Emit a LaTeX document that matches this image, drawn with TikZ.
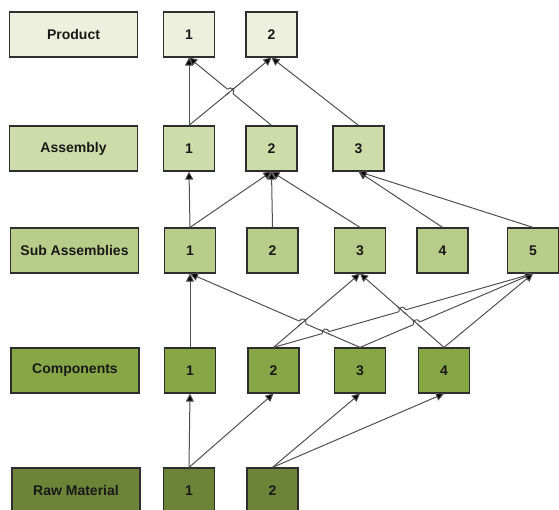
\documentclass[tikz,border=0pt]{standalone}
\usepackage{fontspec}
\setmainfont{Liberation Sans}
\usetikzlibrary{arrows.meta,calc,intersections}

\definecolor{prodfill}{HTML}{EDF0DD}
\definecolor{asmfill}{HTML}{CDDCA9}
\definecolor{subfill}{HTML}{B7CD89}
\definecolor{compfill}{HTML}{87A646}
\definecolor{rawfill}{HTML}{6B8437}
\definecolor{edgegray}{HTML}{505050}
\definecolor{boxline}{HTML}{2E2E2E}

\tikzset{
  box/.style={draw=boxline, line width=1.2pt, minimum width=51pt, minimum height=45pt,
    inner sep=0pt, font=\fontsize{14}{16}\selectfont\bfseries, text=black!90},
  levelbox/.style={box, minimum width=128pt},
  link/.style={draw=edgegray, line width=1pt,
    -{Triangle[length=8pt,width=8pt,fill=black]}},
  plainlink/.style={draw=edgegray, line width=1pt},
}

% Line hop: the link #1 -> #2 bridges over the link #3 -> #4;
% #5 = +1 or -1 picks the side of the bump.
\newcommand\hopover[5]{%
  \path[name path=hpA] (#1.north) -- (#2.south);
  \path[name path=hpB] (#3.north) -- (#4.south);
  \path[name intersections={of=hpA and hpB, by=hx}];
  \coordinate (hp1) at ($(hx)!3.5pt!(#1.north)$);
  \coordinate (hp2) at ($(hx)!3.5pt!(#2.south)$);
  \coordinate (hc1) at ($(hp1)!4.7pt!{#5*90}:(hx)$);
  \coordinate (hc2) at ($(hp2)!4.7pt!{-#5*90}:(hx)$);
  \draw[white, line width=2.6pt] (hp1) -- (hp2);
  \draw[plainlink] ($(hx)!6pt!(#3.north)$) -- ($(hx)!6pt!(#4.south)$);
  \draw[plainlink] (hp1) .. controls (hc1) and (hc2) .. (hp2);
}

\begin{document}
\begin{tikzpicture}[x=1pt,y=1pt]
  \useasboundingbox (0,-510) rectangle (559,0);
  \clip (0,-510) rectangle (559,0);

  % level captions
  \node[levelbox, fill=prodfill] (lprod) at (73.5,-34.5) {Product};
  \node[levelbox, fill=asmfill]  (lasm)  at (73.5,-148.5) {Assembly};
  \node[levelbox, fill=subfill]  (lsub)  at (74.5,-250.5) {Sub Assemblies};
  \node[levelbox, fill=compfill] (lcomp) at (75,-370.5) {Components};
  \node[levelbox, fill=rawfill]  (lraw)  at (76,-490.5) {Raw Material};

  % products
  \node[box, fill=prodfill] (p1) at (189,-34.5) {1};
  \node[box, fill=prodfill] (p2) at (271.5,-34.5) {2};
  % assemblies
  \node[box, fill=asmfill] (a1) at (189,-148.5) {1};
  \node[box, fill=asmfill] (a2) at (271.5,-148.5) {2};
  \node[box, fill=asmfill] (a3) at (358.5,-148.5) {3};
  % sub assemblies
  \node[box, fill=subfill] (s1) at (190,-250.5) {1};
  \node[box, fill=subfill] (s2) at (272.5,-250.5) {2};
  \node[box, fill=subfill] (s3) at (360,-250.5) {3};
  \node[box, fill=subfill] (s4) at (442.5,-250.5) {4};
  \node[box, fill=subfill] (s5) at (533,-250.5) {5};
  % components
  \node[box, fill=compfill] (c1) at (190,-370.5) {1};
  \node[box, fill=compfill] (c2) at (273.5,-370.5) {2};
  \node[box, fill=compfill] (c3) at (360,-370.5) {3};
  \node[box, fill=compfill] (c4) at (444,-370.5) {4};
  % raw material
  \node[box, fill=rawfill] (r1) at (189,-490.5) {1};
  \node[box, fill=rawfill] (r2) at (272.5,-490.5) {2};

  % assembly -> product
  \draw[link] (a1.north) -- (p1.south);
  \draw[link] (a1.north) -- (p2.south);
  \draw[link] (a2.north) -- (p1.south);
  \draw[link] (a3.north) -- (p2.south);
  % sub assembly -> assembly
  \draw[link] (s1.north) -- (a1.south);
  \draw[link] (s1.north) -- (a2.south);
  \draw[link] (s2.north) -- (a2.south);
  \draw[link] (s3.north) -- (a2.south);
  \draw[link] (s4.north) -- (a3.south);
  \draw[link] (s5.north) -- (a3.south);
  % component -> sub assembly
  \draw[link] (c1.north) -- (s1.south);
  \draw[link] (c2.north) -- (s3.south);
  \draw[link] (c2.north) -- (s5.south);
  \draw[link] (c3.north) -- (s1.south);
  \draw[link] (c3.north) -- (s5.south);
  \draw[link] (c4.north) -- (s3.south);
  \draw[link] (c4.north) -- (s5.south);
  % raw material -> component
  \draw[link] (r1.north) -- (c1.south);
  \draw[link] (r1.north) -- (c2.south);
  \draw[link] (r2.north) -- (c3.south);
  \draw[link] (r2.north) -- (c4.south);

  % line hops at the crossings
  \hopover{a2}{p1}{a1}{p2}{-1}
  \hopover{c3}{s1}{c2}{s3}{-1}
  \hopover{c2}{s5}{c3}{s1}{1}
  \hopover{c2}{s5}{c4}{s3}{1}
  \hopover{c3}{s5}{c4}{s3}{1}
\end{tikzpicture}
\end{document}
